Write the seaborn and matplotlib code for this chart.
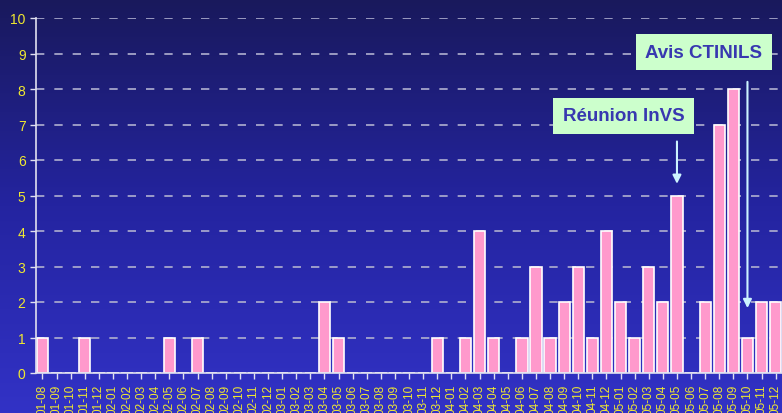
import numpy as np
import pandas as pd
import matplotlib
matplotlib.use("Agg")
import matplotlib.pyplot as plt
from matplotlib.colors import LinearSegmentedColormap
import seaborn as sns

# monthly counts, 2001-08 .. 2005-12
months = [f"{y:02d}-{m:02d}" for y in range(1, 6) for m in range(1, 13)][7:]
counts = [1, 0, 0, 1, 0,
          0, 0, 0, 0, 1, 0, 1, 0, 0, 0, 0, 0,
          0, 0, 0, 2, 1, 0, 0, 0, 0, 0, 0, 1,
          0, 1, 4, 1, 0, 1, 3, 1, 2, 3, 1, 4,
          2, 1, 3, 2, 5, 0, 2, 7, 8, 1, 2, 2]

annotations = [
    ("Réunion InVS", "05-05"),
    ("Avis CTINILS", "05-10"),
]

df = pd.DataFrame({"month": months, "count": counts})

sns.set_style("white")
plt.rcParams["font.family"] = ["Liberation Sans", "DejaVu Sans"]

fig = plt.figure(figsize=(7.82, 4.14), dpi=100)

# gradient background over the whole figure
bg = fig.add_axes([0, 0, 1, 1], zorder=-1)
cmap = LinearSegmentedColormap.from_list("bg", ["#19195c", "#2424a0", "#3232c6"])
bg.imshow(np.linspace(0, 1, 256).reshape(-1, 1), aspect="auto", cmap=cmap,
          extent=[0, 1, 0, 1])
bg.axis("off")

ax = fig.add_axes([36 / 782, 1 - 374 / 414, 1 - 36 / 782, 355 / 414])
ax.set_facecolor("none")

for yv in range(1, 11):
    ax.axhline(yv, color="#b0b0d0", lw=1.2, dashes=(5, 6), zorder=0)

sns.barplot(data=df, x="month", y="count", color="#ff99cc", edgecolor="white",
            linewidth=1.2, width=0.8, saturation=1, ax=ax, zorder=2)

ax.set_xlim(-0.46, 52.45)
ax.set_ylim(0, 10)
ax.set_yticks(range(0, 11))
ax.set_xlabel("")
ax.set_ylabel("")

for s in ["top", "right"]:
    ax.spines[s].set_visible(False)
for s in ["left", "bottom"]:
    ax.spines[s].set_color("#e0e0f0")
    ax.spines[s].set_linewidth(1.2)

ax.tick_params(axis="y", colors="#e0e0f0", labelcolor="#f0e830", labelsize=10,
               length=4, width=1, direction="out", left=True)
ax.tick_params(axis="x", colors="#e0e0f0", labelcolor="#f0e830", labelsize=8.5,
               length=4, width=1, direction="out", bottom=True, rotation=90)
for t in ax.get_xticklabels():
    t.set_va("top")

# annotation boxes with arrows
label_pos = {"Réunion InVS": (41.2, 7.24, 6.6), "Avis CTINILS": (46.9, 9.04, 8.28)}
for text, month in annotations:
    i = months.index(month)
    tx, ty, ay = label_pos[text]
    ax.text(tx, ty, text, fontsize=13.5, fontweight="bold", color="#3838b0",
            ha="center", va="center", zorder=5,
            bbox=dict(boxstyle="square,pad=0.5", fc="#ccffcc", ec="none"))
    end = counts[i] + 0.25 if text == "Réunion InVS" else 1.75
    ax.annotate("", xy=(i, end), xytext=(i, ay), zorder=4,
                arrowprops=dict(arrowstyle="-|>,head_width=0.25,head_length=0.5",
                                color="#ccf4ff", lw=1.5))

fig.savefig("out.png", dpi=100)
